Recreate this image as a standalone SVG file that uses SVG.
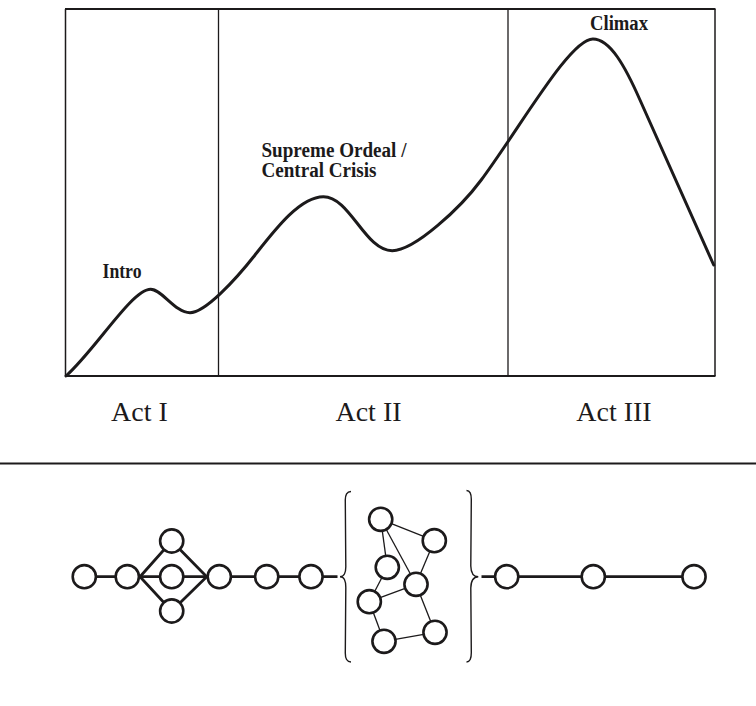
<svg xmlns="http://www.w3.org/2000/svg" width="756" height="706" viewBox="0 0 756 706">
<style>
.frame{stroke:#1c1a1b;fill:none}
.curve{stroke:#1c1a1b;stroke-width:3;fill:none;stroke-linejoin:round;stroke-linecap:round}
.lbl{font-family:"Liberation Serif","Times New Roman",serif;font-weight:bold;font-size:20px;fill:#1c1a1b}
.act{font-family:"Liberation Serif","Times New Roman",serif;font-size:28px;fill:#1c1a1b;text-anchor:middle}
.node{fill:#fff;stroke:#1c1a1b;stroke-width:2.6}
.thick{stroke:#1c1a1b;stroke-width:2.8;fill:none}
.thin{stroke:#1c1a1b;stroke-width:1.3;fill:none}
.brace{stroke:#1c1a1b;stroke-width:1.4;fill:none}
</style>
<rect width="756" height="706" fill="#fff"/>
<g id="chart">
<line class="frame" x1="65" y1="9" x2="715.5" y2="9" stroke-width="2"/>
<line class="frame" x1="65" y1="376" x2="715.5" y2="376" stroke-width="2"/>
<line class="frame" x1="65.5" y1="9" x2="65.5" y2="376" stroke-width="1.5"/>
<line class="frame" x1="715" y1="9" x2="715" y2="376" stroke-width="1.5"/>
<line class="frame" x1="218.5" y1="9" x2="218.5" y2="376" stroke-width="1.3"/>
<line class="frame" x1="508" y1="9" x2="508" y2="376" stroke-width="1.3"/>
<path class="curve" d="M66,376 C96,349 132,289.3 150.6,289.3 C162,289.3 175,312.7 190,312.7 C205,312.7 235,280.4 255,255 C275,229.6 300,196.7 323.4,196.7 C350,196.7 365,250.7 392.2,250.7 C415,250.7 461.2,207 481.2,180 C521.2,126 570,39 592.9,39 C610,39 625,66 640,100 L713.7,265"/>
<text class="lbl" x="102.5" y="278.3" textLength="39" lengthAdjust="spacingAndGlyphs">Intro</text>
<text class="lbl" x="261.5" y="156.7" textLength="145" lengthAdjust="spacingAndGlyphs">Supreme Ordeal /</text>
<text class="lbl" x="261.5" y="176.7" textLength="115" lengthAdjust="spacingAndGlyphs">Central Crisis</text>
<text class="lbl" x="590" y="29.5" textLength="58" lengthAdjust="spacingAndGlyphs">Climax</text>
<text class="act" x="139.5" y="420.7">Act I</text>
<text class="act" x="368.5" y="420.7">Act II</text>
<text class="act" x="614" y="420.7">Act III</text>
</g>
<line x1="0" y1="463.5" x2="756" y2="463.5" stroke="#1c1a1b" stroke-width="2"/>
<g id="connectors">
<line class="thick" x1="84.3" y1="576.7" x2="337.5" y2="576.7"/>
<path class="thick" d="M140,576.7 L171.7,541 L206.7,576.7 L171.7,611 Z" stroke-linejoin="miter"/>
<line class="thick" x1="481.5" y1="576.7" x2="694" y2="576.7"/>
<line class="thin" x1="380.7" y1="519.3" x2="434.3" y2="540.7"/>
<line class="thin" x1="380.7" y1="519.3" x2="387.3" y2="567.3"/>
<line class="thin" x1="380.7" y1="519.3" x2="416" y2="584.3"/>
<line class="thin" x1="434.3" y1="540.7" x2="416" y2="584.3"/>
<line class="thin" x1="387.3" y1="567.3" x2="369.3" y2="601.7"/>
<line class="thin" x1="369.3" y1="601.7" x2="416" y2="584.3"/>
<line class="thin" x1="416" y1="584.3" x2="435" y2="632.3"/>
<line class="thin" x1="369.3" y1="601.7" x2="384" y2="641.3"/>
<line class="thin" x1="384" y1="641.3" x2="435" y2="632.3"/>
</g>
<g id="brace-left"><path class="brace" d="M351,491.5 Q345,491.5 345.3,501 L345.8,566 Q346,576.7 340,576.7 Q346,576.7 345.8,588 L345.3,652 Q345,662 351,662"/></g>
<g id="brace-right"><path class="brace" d="M466.5,490.5 Q471.5,490.5 471.3,500 L470.8,566 Q471,576.7 478.3,576.7 Q471,576.7 470.8,588 L471.3,652 Q471.5,662 466.5,662"/></g>
<g id="n1"><circle class="node" cx="84.3" cy="576.7" r="11.6"/></g>
<g id="n2"><circle class="node" cx="127.3" cy="576.7" r="11.6"/></g>
<g id="n3a"><circle class="node" cx="171.7" cy="541" r="11.6"/></g>
<g id="n3b"><circle class="node" cx="171.7" cy="576.7" r="11.6"/></g>
<g id="n3c"><circle class="node" cx="171.7" cy="611" r="11.6"/></g>
<g id="n4"><circle class="node" cx="219.3" cy="576.7" r="11.6"/></g>
<g id="n5"><circle class="node" cx="266.7" cy="576.7" r="11.6"/></g>
<g id="n6"><circle class="node" cx="311" cy="576.7" r="11.6"/></g>
<g id="cA"><circle class="node" cx="380.7" cy="519.3" r="11.6"/></g>
<g id="cB"><circle class="node" cx="434.3" cy="540.7" r="11.6"/></g>
<g id="cC"><circle class="node" cx="387.3" cy="567.3" r="11.6"/></g>
<g id="cD"><circle class="node" cx="416" cy="584.3" r="11.6"/></g>
<g id="cE"><circle class="node" cx="369.3" cy="601.7" r="11.6"/></g>
<g id="cF"><circle class="node" cx="435" cy="632.3" r="11.6"/></g>
<g id="cG"><circle class="node" cx="384" cy="641.3" r="11.6"/></g>
<g id="n7"><circle class="node" cx="506.7" cy="576.7" r="11.6"/></g>
<g id="n8"><circle class="node" cx="593.3" cy="576.7" r="11.6"/></g>
<g id="n9"><circle class="node" cx="694" cy="576.7" r="11.6"/></g>
</svg>
